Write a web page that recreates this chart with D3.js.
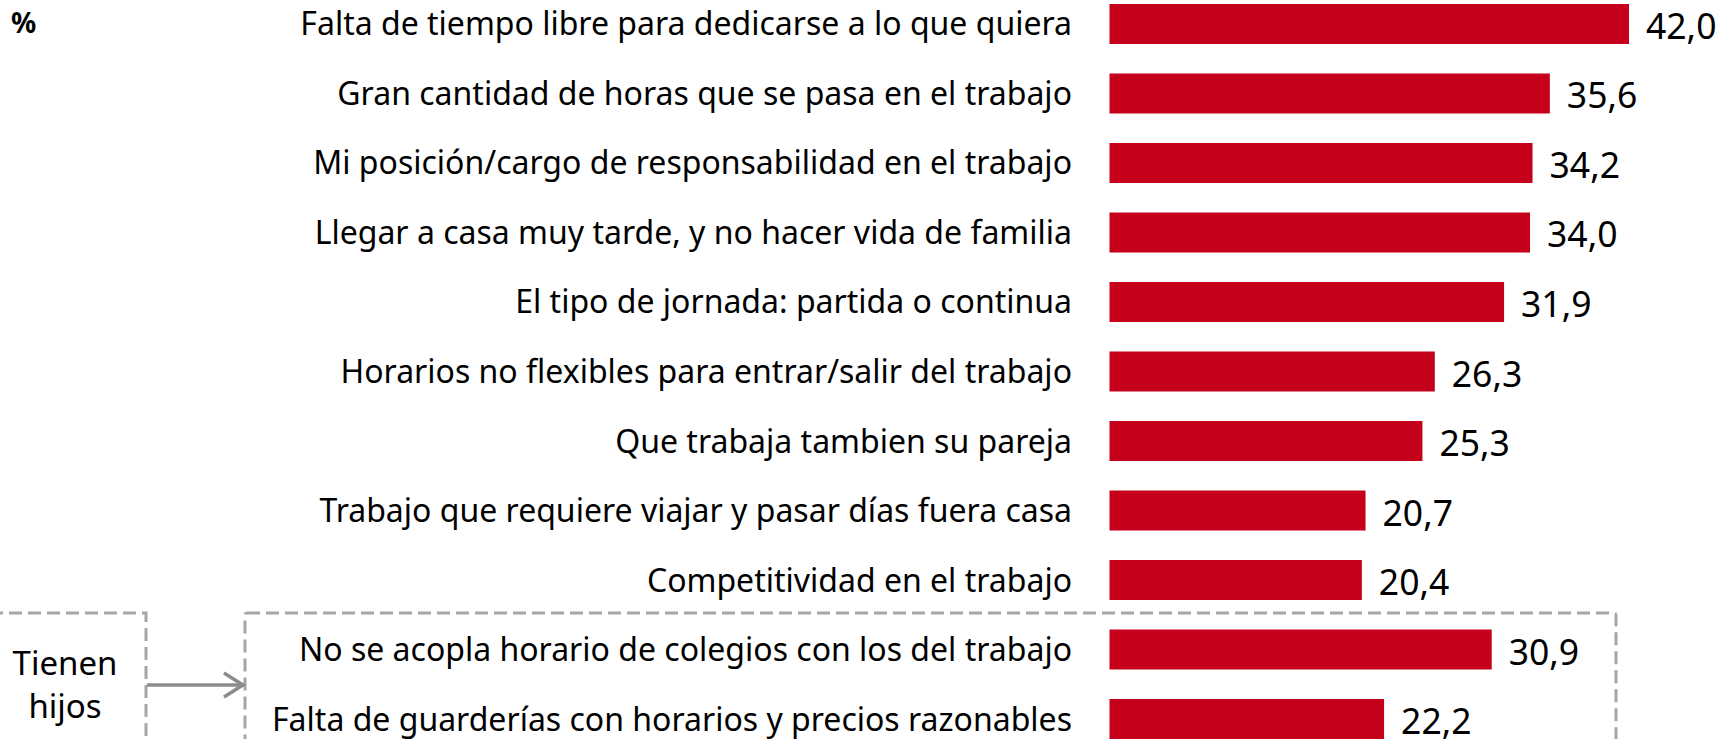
<!DOCTYPE html>
<html>
<head>
<meta charset="utf-8">
<script src="https://cdn.jsdelivr.net/npm/d3@7"></script>
<style>
  html, body { margin: 0; padding: 0; background: #fff; }
  svg { display: block; }
  text { font-family: "Noto Sans", "Open Sans", sans-serif; fill: #000; }
</style>
</head>
<body>
<svg id="chart"></svg>
<script>
// motivos (categorías) y porcentajes
var categories = [
  "Falta de tiempo libre para dedicarse a lo que quiera",
  "Gran cantidad de horas que se pasa en el trabajo",
  "Mi posición/cargo de responsabilidad en el trabajo",
  "Llegar a casa muy tarde, y no hacer vida de familia",
  "El tipo de jornada: partida o continua",
  "Horarios no flexibles para entrar/salir del trabajo",
  "Que trabaja tambien su pareja",
  "Trabajo que requiere viajar y pasar días fuera casa",
  "Competitividad en el trabajo",
  "No se acopla horario de colegios con los del trabajo",
  "Falta de guarderías con horarios y precios razonables"
];
var values = [42.0, 35.6, 34.2, 34.0, 31.9, 26.3, 25.3, 20.7, 20.4, 30.9, 22.2];
var groupLabel = ["Tienen", "hijos"]; // solo para los 2 últimos
var unitLabel = "%";

var W = 1731, H = 739;
var barColor = "#c5001a";
var dashColor = "#a6a6a6";

var svg = d3.select("#chart").attr("width", W).attr("height", H);

var x = d3.scaleLinear().domain([0, 42]).range([1109.5, 1629]);
var y = d3.scaleBand().domain(categories).range([4, 739]).paddingInner(0.4245).paddingOuter(0);

// barras
svg.selectAll("rect.bar")
  .data(values)
  .enter()
  .append("rect")
  .attr("class", "bar")
  .attr("x", x(0))
  .attr("y", function(d, i) { return y(categories[i]); })
  .attr("width", function(d) { return x(d) - x(0); })
  .attr("height", y.bandwidth())
  .attr("fill", barColor);

// etiquetas de categoría
svg.selectAll("text.cat")
  .data(categories)
  .enter()
  .append("text")
  .attr("class", "cat")
  .attr("x", 1072)
  .attr("y", function(d) { return y(d) + y.bandwidth() / 2 + 11.5; })
  .attr("text-anchor", "end")
  .style("font-size", "32px")
  .text(function(d) { return d; });

// valores
var fmt = function(v) { return v.toFixed(1).replace(".", ","); };
svg.selectAll("text.val")
  .data(values)
  .enter()
  .append("text")
  .attr("class", "val")
  .attr("x", function(d) { return x(d) + 17; })
  .attr("y", function(d, i) { return y(categories[i]) + y.bandwidth() / 2 + 15; })
  .style("font-size", "35.5px")
  .text(fmt);

svg.append("text")
  .attr("x", 11).attr("y", 33)
  .style("font-size", "28px").style("font-weight", "bold")
  .text(unitLabel);

// recuadros discontinuos
var boxTop = 613;
svg.append("rect")
  .attr("x", -10).attr("y", boxTop)
  .attr("width", 156).attr("height", 200)
  .attr("fill", "none").attr("stroke", dashColor)
  .attr("stroke-width", 3).attr("stroke-dasharray", "13,6");
svg.append("rect")
  .attr("x", 245).attr("y", boxTop)
  .attr("width", 1371).attr("height", 200)
  .attr("rx", 2)
  .attr("fill", "none").attr("stroke", dashColor)
  .attr("stroke-width", 3).attr("stroke-dasharray", "13,6");

svg.append("text")
  .attr("text-anchor", "middle").style("font-size", "33px")
  .selectAll("tspan")
  .data(groupLabel)
  .enter()
  .append("tspan")
  .attr("x", 65)
  .attr("y", function(d, i) { return 675 + i * 43; })
  .text(function(d) { return d; });

// flecha
svg.append("line")
  .attr("x1", 147).attr("y1", 685).attr("x2", 243).attr("y2", 685)
  .attr("stroke", "#8c8c8c").attr("stroke-width", 3.5);
svg.append("path")
  .attr("d", "M224,673 L243,685 L224,697")
  .attr("fill", "none").attr("stroke", "#8c8c8c").attr("stroke-width", 3.5);
</script>
</body>
</html>
